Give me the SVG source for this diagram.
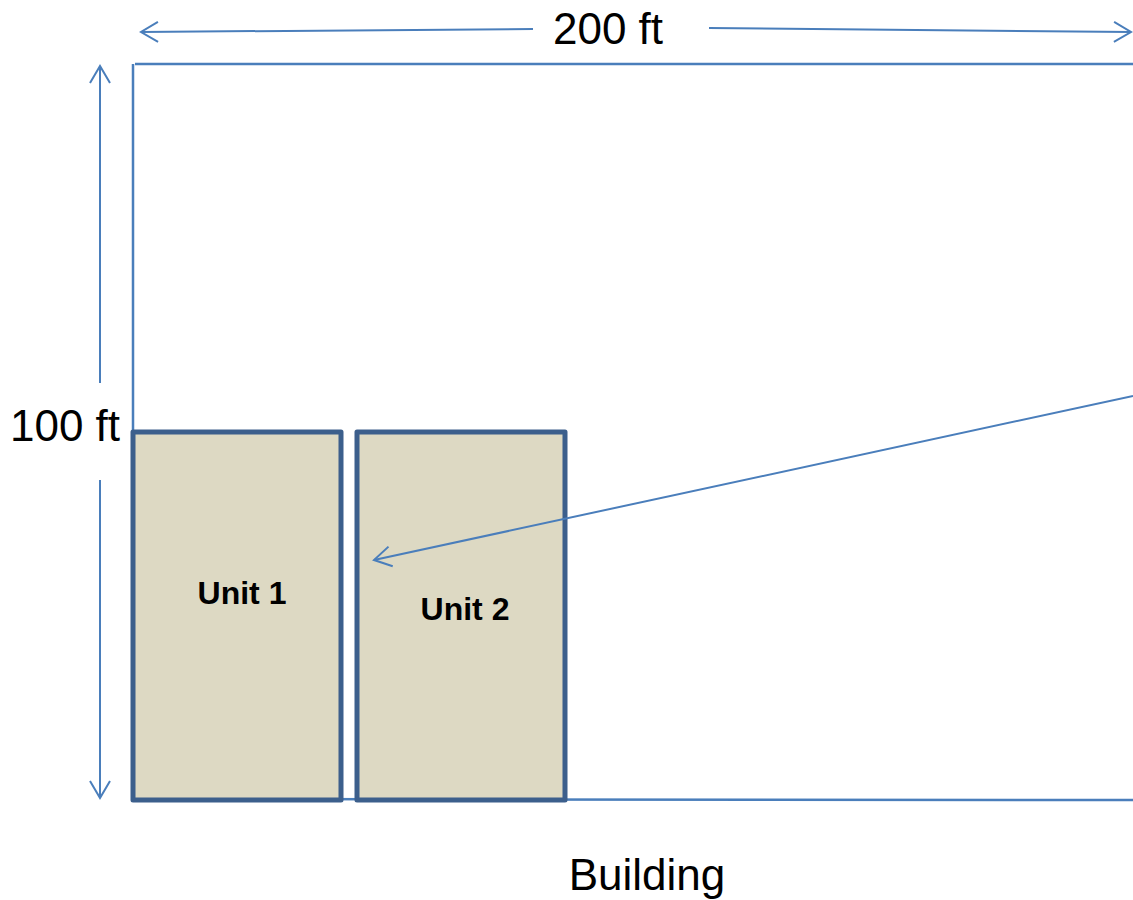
<svg xmlns="http://www.w3.org/2000/svg" width="1133" height="900" viewBox="0 0 1133 900">
  <style>
    .dim { fill: none; stroke: #4a7ebb; stroke-width: 2; }
    .outline { fill: none; stroke: #4a7ebb; stroke-width: 2.5; }
    .unit { fill: #ddd9c3; stroke: #3c5f8c; stroke-width: 5; stroke-linejoin: round; }
    .label { font-family: "Liberation Sans", Arial, sans-serif; font-size: 44px; fill: #000; }
    .ulabel { font-family: "Liberation Sans", Arial, sans-serif; font-size: 32px; font-weight: bold; fill: #000; text-anchor: middle; }
  </style>
  <defs>
    <marker id="open" viewBox="-20 -12 22 24" refX="0" refY="0" markerWidth="22" markerHeight="24" markerUnits="userSpaceOnUse" orient="auto" overflow="visible">
      <path d="M -17,-10 L 0,0 L -17,10" fill="none" stroke="#4a7ebb" stroke-width="2"/>
    </marker>
  </defs>
  <rect width="1133" height="900" fill="#ffffff"/>

  <g id="building">
    <path class="outline" d="M 133,800 L 133,64 M 135,64 L 1133,64 M 133,799 L 1133,800"/>
    <text class="label" x="647" y="890" text-anchor="middle">Building</text>
  </g>

  <g id="unit1">
    <rect class="unit" x="133" y="432" width="208" height="368"/>
    <text class="ulabel" x="242" y="604">Unit 1</text>
  </g>

  <g id="unit2">
    <rect class="unit" x="357" y="432" width="208" height="368"/>
    <text class="ulabel" x="465" y="620">Unit 2</text>
  </g>

  <g id="dim-labels">
    <text class="label" x="608" y="44" text-anchor="middle">200 ft</text>
    <text class="label" x="65" y="441" text-anchor="middle">100 ft</text>
  </g>

  <g id="connectors">
    <path class="dim" d="M 533,29 L 141,32" marker-end="url(#open)"/>
    <path class="dim" d="M 709,28 L 1131,32" marker-end="url(#open)"/>
    <path class="dim" d="M 100,383 L 100,66" marker-end="url(#open)"/>
    <path class="dim" d="M 100,480 L 100,798" marker-end="url(#open)"/>
    <path class="dim" d="M 1133,396 L 374,560" marker-end="url(#open)"/>
  </g>
</svg>
